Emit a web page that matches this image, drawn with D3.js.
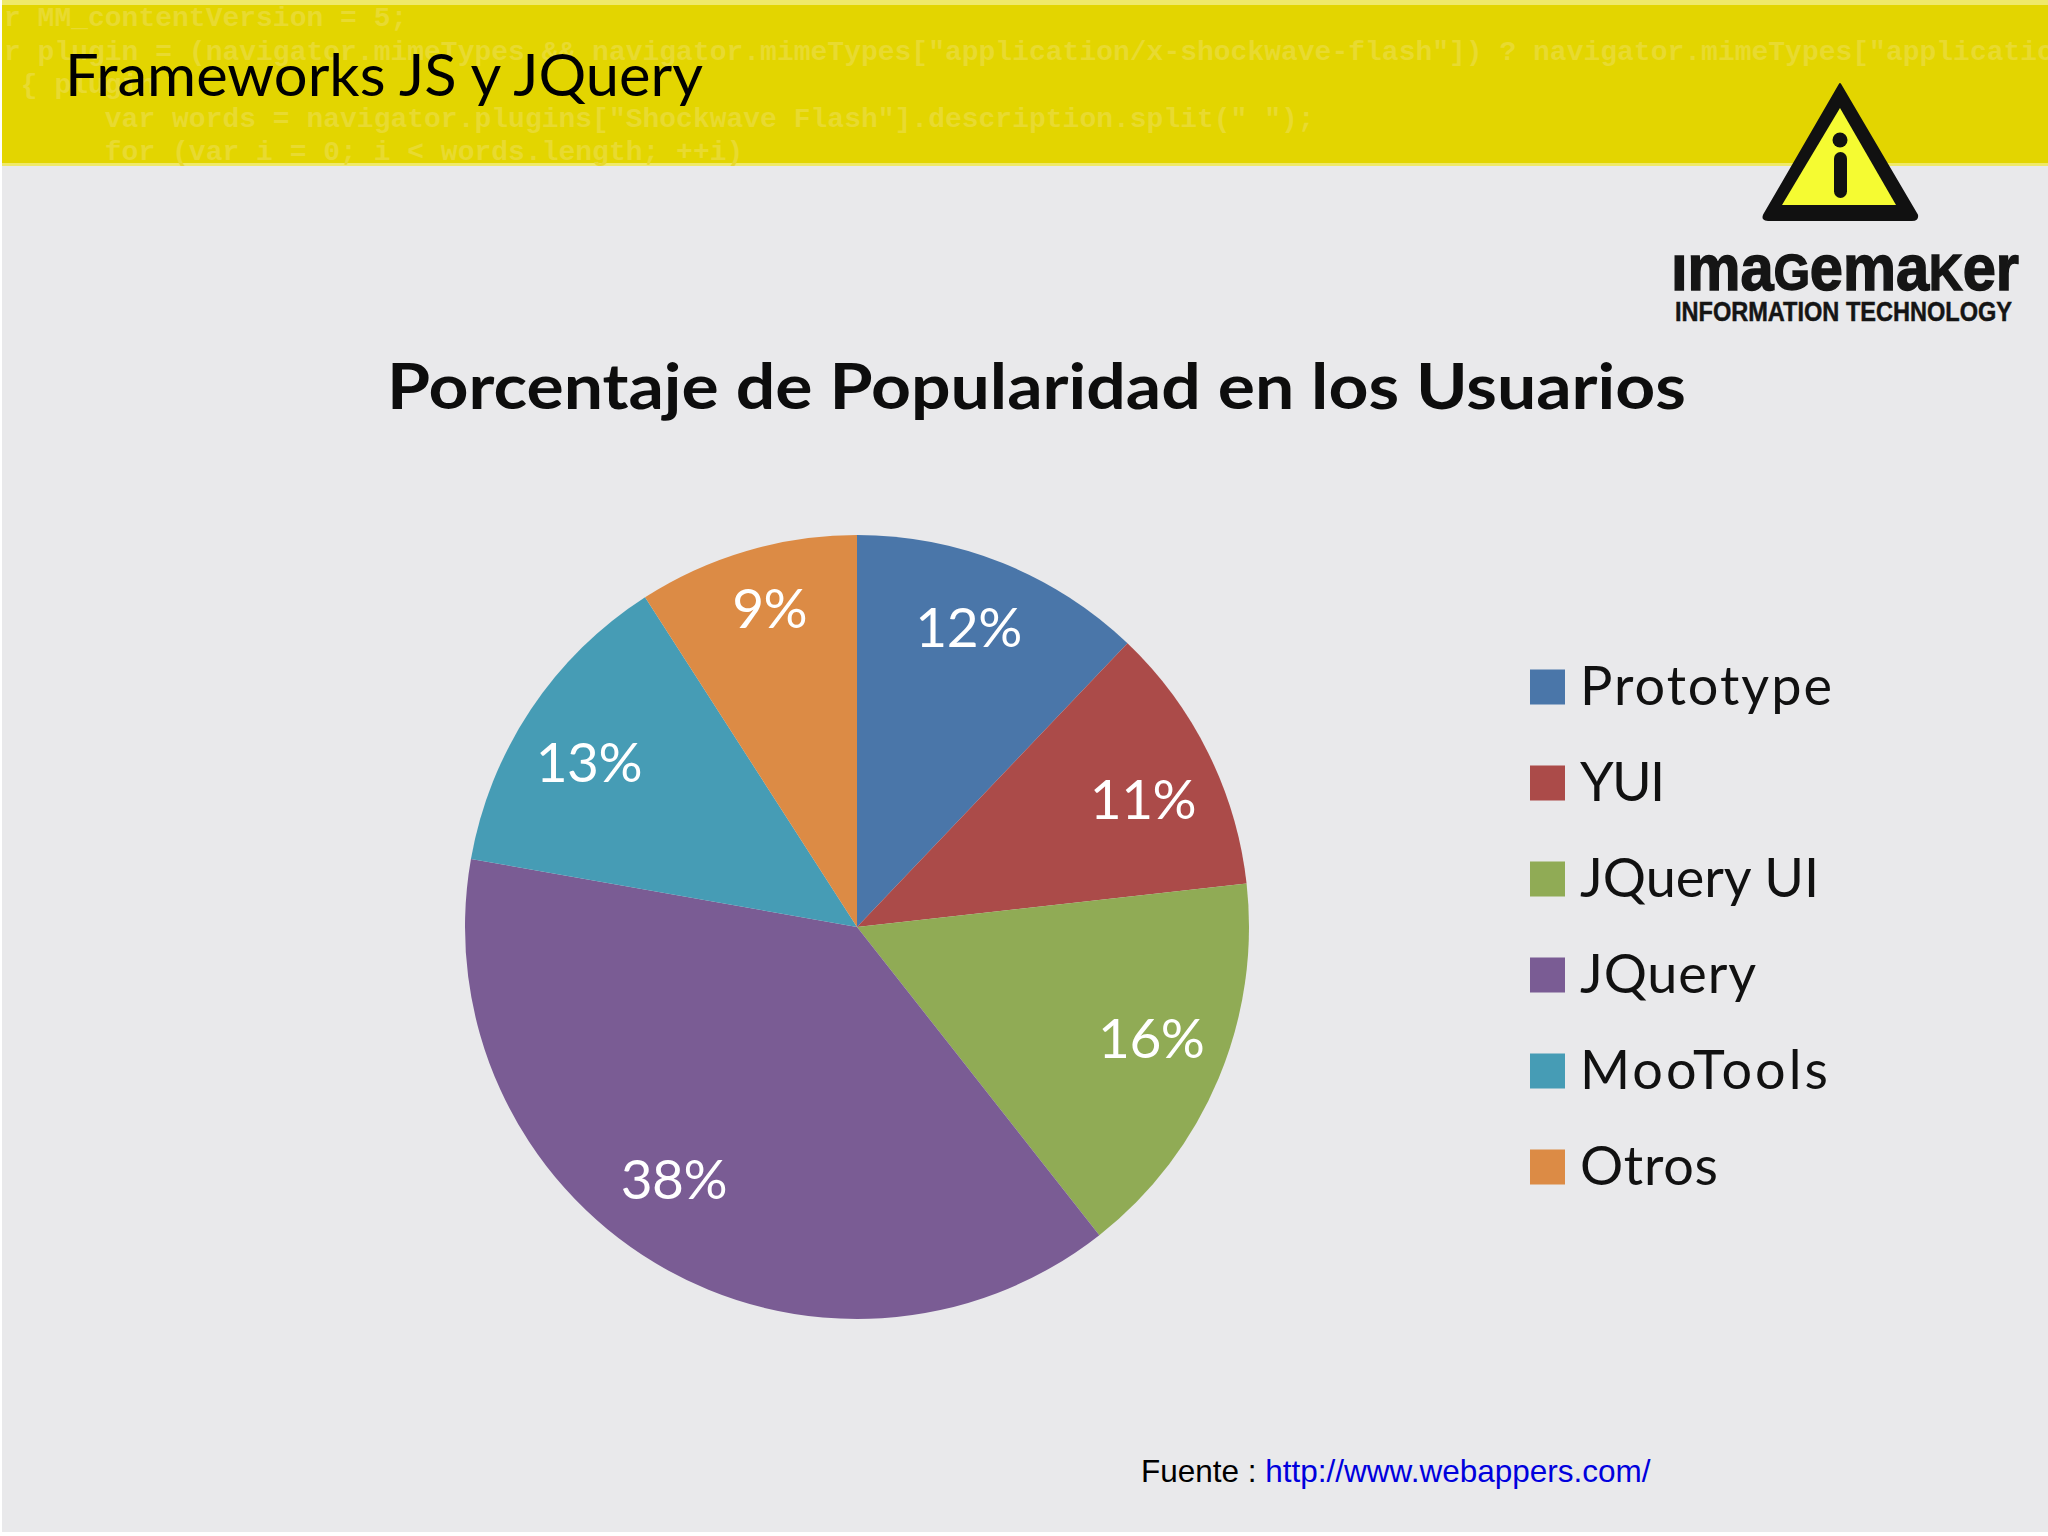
<!DOCTYPE html>
<html lang="es">
<head>
<meta charset="UTF-8">
<title>Frameworks JS y JQuery</title>
<script src="https://d3js.org/d3.v7.min.js"></script>
<style>
    html, body { margin: 0; padding: 0; background: #fff; }
    svg { display: block; }
    text { font-family: Lato, "Noto Sans", sans-serif; }
    .code { font-family: "Liberation Mono", monospace; font-weight: bold; font-size: 28px; fill: #e8da30; }
    .logo { font-family: "Liberation Sans", Arial, sans-serif; font-weight: bold; fill: #151515; }
    .source { font-family: "Liberation Sans", Arial, sans-serif; font-size: 31.5px; }
</style>
</head>
<body>
<svg id="chart" width="2048" height="1536"></svg>
<script>
var categories = ["Prototype", "YUI", "JQuery UI", "JQuery", "MooTools", "Otros"];
var values = [12, 11, 16, 38, 13, 9];
var colors = ["#4a76a9", "#ab4b49", "#90ab55", "#7a5c94", "#469cb5", "#dc8b45"];
var codeLines = [
    "r MM_contentVersion = 5;",
    "r plugin = (navigator.mimeTypes && navigator.mimeTypes[\"application/x-shockwave-flash\"]) ? navigator.mimeTypes[\"application/x-shockwave-flash\"]",
    " { plugin",
    "      var words = navigator.plugins[\"Shockwave Flash\"].description.split(\" \");",
    "      for (var i = 0; i < words.length; ++i)"
];

var svg = d3.select("#chart");

// slide background and yellow header
svg.append("rect").attr("x", 2).attr("width", 2046).attr("height", 1532).attr("fill", "#e9e9eb");
svg.append("rect").attr("x", 2).attr("width", 2046).attr("height", 166).attr("fill", "#efe96a");
svg.append("rect").attr("x", 2).attr("y", 5).attr("width", 2046).attr("height", 158).attr("fill", "#e3d500");

svg.selectAll(".code")
    .data(codeLines)
    .enter().append("text")
    .attr("class", "code")
    .attr("xml:space", "preserve")
    .attr("x", 4)
    .attr("y", function(d, i) { return 26 + i * 33.5; })
    .text(function(d) { return d; });

svg.append("text")
    .attr("x", 65).attr("y", 96)
    .attr("font-size", 58)
    .attr("textLength", 638).attr("lengthAdjust", "spacingAndGlyphs")
    .attr("fill", "#000")
    .text("Frameworks JS y JQuery");

// logo
var logo = svg.append("g");
logo.append("path")
    .attr("d", "M1840,84 L1917,215 Q1918,220 1912,220 L1768,220 Q1762,220 1764,215 Z")
    .attr("fill", "#111").attr("stroke", "#111").attr("stroke-width", 2).attr("stroke-linejoin", "round");
logo.append("path").attr("d", "M1840,108 L1896,205 L1782,205 Z").attr("fill", "#f5fb32");
logo.append("circle").attr("cx", 1840).attr("cy", 140).attr("r", 7.5).attr("fill", "#111");
logo.append("rect").attr("x", 1834).attr("y", 152).attr("width", 13).attr("height", 46).attr("rx", 6.5).attr("fill", "#111");

var brand = logo.append("text").attr("class", "logo")
    .attr("x", 1671).attr("y", 290)
    .attr("font-size", 64)
    .attr("textLength", 348).attr("lengthAdjust", "spacingAndGlyphs")
    .attr("stroke", "#151515").attr("stroke-width", 1.5);
brand.append("tspan").text("\u0131ma");
brand.append("tspan").attr("font-size", 50).text("G");
brand.append("tspan").text("ema");
brand.append("tspan").attr("font-size", 50).text("K");
brand.append("tspan").text("er");

logo.append("text").attr("class", "logo")
    .attr("x", 1675).attr("y", 321)
    .attr("font-size", 27)
    .attr("textLength", 337).attr("lengthAdjust", "spacingAndGlyphs")
    .attr("stroke", "#151515").attr("stroke-width", 0.5)
    .text("INFORMATION TECHNOLOGY");

// chart title
svg.append("text")
    .attr("x", 387).attr("y", 409)
    .attr("font-size", 63).attr("font-weight", "bold")
    .attr("textLength", 1299).attr("lengthAdjust", "spacingAndGlyphs")
    .attr("fill", "#0d0d0d")
    .text("Porcentaje de Popularidad en los Usuarios");

// pie
var radius = 392;
var color = d3.scaleOrdinal().domain(categories).range(colors);
var pie = d3.pie().sort(null).value(function(d) { return d.value; });
var arc = d3.arc().innerRadius(0).outerRadius(radius);
var labelArc = d3.arc().innerRadius(radius * 0.8).outerRadius(radius * 0.8);
var pieData = pie(categories.map(function(c, i) { return {name: c, value: values[i]}; }));

// labels sit a bit off the centroid in the original
var labelNudge = [[-5, -8], [5, 12], [5, -9], [-22, -16], [-7, 9], [1, -17]];

var g = svg.append("g").attr("transform", "translate(857,927)");
g.selectAll("path")
    .data(pieData)
    .enter().append("path")
    .attr("d", arc)
    .attr("fill", function(d) { return color(d.data.name); });

g.selectAll("text")
    .data(pieData)
    .enter().append("text")
    .attr("transform", function(d, i) {
        var c = labelArc.centroid(d);
        return "translate(" + (c[0] + labelNudge[i][0]) + "," + (c[1] + labelNudge[i][1]) + ")";
    })
    .attr("text-anchor", "middle")
    .attr("dy", "0.35em")
    .attr("font-size", 55)
    .attr("letter-spacing", -0.5)
    .attr("fill", "#fff")
    .text(function(d) { return d.data.value + "%"; });

// legend
var legendWidths = [252, 85, 239, 176, 248, 138];
var rowY = d3.scalePoint().domain(categories).range([687, 1167]);
var legend = svg.selectAll(".legend")
    .data(categories)
    .enter().append("g")
    .attr("class", "legend")
    .attr("transform", function(d) { return "translate(1530," + rowY(d) + ")"; });
legend.append("rect")
    .attr("y", -17.5)
    .attr("width", 35).attr("height", 35)
    .attr("fill", function(d) { return color(d); });
legend.append("text")
    .attr("x", 50).attr("y", 18)
    .attr("font-size", 54)
    .attr("textLength", function(d, i) { return legendWidths[i]; })
    .attr("fill", "#111")
    .text(function(d) { return d; });

// source
var source = svg.append("text").attr("class", "source").attr("x", 1141).attr("y", 1482);
source.append("tspan").attr("fill", "#000").text("Fuente : ");
source.append("tspan").attr("fill", "#0000dd").text("http://www.webappers.com/");
</script>
</body>
</html>
